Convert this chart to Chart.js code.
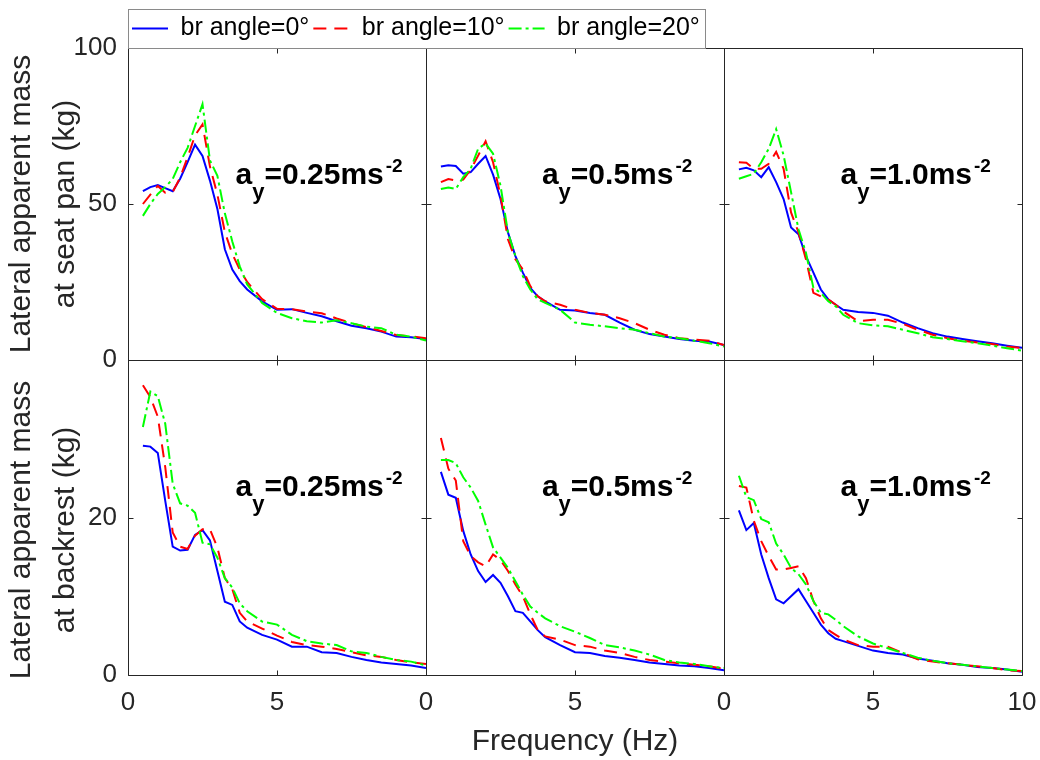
<!DOCTYPE html>
<html>
<head>
<meta charset="utf-8">
<script src="https://cdn.jsdelivr.net/npm/chart.js@4.4.1/dist/chart.umd.min.js"></script>
<style>
  html, body { margin: 0; padding: 0; background: #fff; }
  #wrap { width: 1040px; height: 760px; }
</style>
</head>
<body>
<div id="wrap"><canvas id="chart" width="1040" height="760"></canvas></div>
<script>
// frequency (Hz) shared by every curve
const freq = [0.5, 0.75, 1, 1.25, 1.5, 1.75, 2, 2.25, 2.5, 2.75, 3, 3.25, 3.5, 3.75, 4, 4.5, 5, 5.5, 6, 6.5, 7, 7.5, 8, 8.5, 9, 9.5, 10];

const seriesNames = ["br angle=0°", "br angle=10°", "br angle=20°"];
const levels = ["0.25", "0.5", "1.0"];

const xTicksMain = [0, 5, 10];
const yTicksSeat = [0, 50, 100];
const yTicksBack = [0, 20, 40];

// seat pan, a_y = 0.25
const seat025_br0 = [54.1, 55.4, 56.1, 55.1, 54.1, 58.1, 63.4, 69.0, 65.4, 57.5, 48.4, 35.5, 29.0, 25.3, 22.6, 18.8, 16.1, 16.3, 15.1, 14.0, 12.4, 11.0, 10.2, 9.1, 7.5, 7.3, 6.7];
const seat025_br10 = [50.0, 53.0, 55.8, 53.6, 53.8, 58.5, 65.0, 72.0, 75.5, 62.0, 53.0, 41.0, 34.0, 29.0, 25.0, 19.5, 16.4, 16.3, 15.5, 15.0, 13.3, 11.8, 10.5, 9.3, 8.0, 7.6, 7.0];
const seat025_br20 = [46.2, 50.0, 53.2, 55.4, 58.0, 63.4, 68.0, 75.0, 82.0, 64.0, 59.0, 47.0, 38.0, 30.0, 24.2, 18.3, 15.1, 13.4, 12.4, 12.0, 12.7, 11.8, 10.7, 10.2, 8.1, 7.5, 6.2];

// seat pan, a_y = 0.5
const seat05_br0 = [62.0, 62.4, 62.2, 59.7, 60.2, 62.9, 65.4, 59.4, 51.6, 40.9, 33.3, 28.0, 23.1, 20.4, 18.8, 16.1, 15.9, 15.1, 14.5, 12.0, 9.7, 8.3, 7.5, 6.7, 6.2, 5.9, 4.8];
const seat05_br10 = [57.0, 58.0, 57.5, 57.8, 61.0, 65.5, 70.1, 63.4, 52.7, 38.7, 32.3, 29.0, 23.7, 20.4, 18.8, 17.7, 16.1, 15.1, 14.5, 13.4, 11.8, 9.7, 8.1, 7.0, 6.5, 6.2, 4.8];
const seat05_br20 = [54.8, 55.3, 54.8, 58.6, 61.3, 67.7, 69.4, 66.1, 55.9, 40.9, 33.3, 26.9, 22.6, 19.4, 18.3, 16.1, 12.0, 11.3, 10.8, 10.2, 9.7, 8.6, 7.5, 7.0, 6.2, 5.4, 4.3];

// seat pan, a_y = 1.0
const seat10_br0 = [61.1, 61.6, 60.8, 58.6, 61.8, 57.0, 51.6, 42.5, 40.3, 33.3, 28.0, 22.6, 19.4, 17.7, 16.1, 15.4, 15.1, 14.2, 12.0, 10.2, 8.6, 7.5, 6.7, 6.0, 5.4, 4.6, 3.9];
const seat10_br10 = [63.4, 63.2, 61.3, 61.3, 62.9, 66.7, 61.3, 47.3, 40.9, 32.3, 21.5, 20.4, 19.4, 17.7, 15.6, 12.4, 12.9, 12.9, 11.6, 9.7, 8.1, 7.0, 6.2, 5.6, 5.1, 4.3, 3.8];
const seat10_br20 = [58.1, 58.9, 59.7, 63.4, 67.7, 74.0, 65.6, 53.8, 41.9, 34.4, 23.1, 21.5, 18.8, 17.2, 14.5, 11.8, 11.1, 10.8, 9.7, 8.6, 7.3, 6.7, 6.0, 5.4, 4.6, 3.8, 3.0];

// backrest, a_y = 0.25
const back025_br0 = [29.1, 29.0, 28.2, 22.1, 16.3, 15.8, 15.9, 17.8, 18.4, 17.1, 13.2, 9.3, 8.9, 6.8, 6.0, 5.1, 4.5, 3.6, 3.6, 2.9, 2.8, 2.3, 1.9, 1.6, 1.4, 1.2, 0.9];
const back025_br10 = [36.8, 35.3, 32.8, 26.4, 18.1, 16.3, 16.0, 17.7, 18.5, 18.5, 16.2, 12.3, 10.9, 7.9, 6.8, 5.9, 5.0, 4.2, 3.8, 3.6, 3.3, 2.9, 2.5, 2.3, 1.9, 1.6, 1.4];
const back025_br20 = [31.5, 36.0, 35.4, 31.9, 24.3, 21.8, 21.5, 20.6, 16.8, 16.6, 14.9, 12.3, 11.1, 9.1, 8.1, 6.8, 6.4, 5.1, 4.3, 4.0, 3.8, 3.0, 2.8, 2.3, 1.9, 1.7, 1.2];

// backrest, a_y = 0.5
const back05_br0 = [25.8, 22.9, 22.5, 18.3, 15.3, 13.2, 11.8, 12.7, 11.7, 10.0, 8.1, 7.9, 6.8, 5.7, 4.8, 3.8, 2.9, 2.8, 2.4, 2.2, 1.9, 1.6, 1.4, 1.2, 1.1, 0.9, 0.6];
const back05_br10 = [30.1, 26.2, 24.7, 17.0, 15.1, 14.3, 13.8, 15.3, 14.6, 13.2, 11.5, 10.0, 7.7, 5.7, 4.9, 4.5, 3.8, 3.6, 3.1, 2.8, 2.3, 1.9, 1.7, 1.5, 1.3, 1.1, 0.8];
const back05_br20 = [27.3, 27.3, 26.9, 25.1, 23.8, 22.1, 19.1, 16.2, 14.9, 13.6, 11.9, 10.2, 8.7, 7.9, 7.2, 6.2, 5.5, 4.7, 3.8, 3.5, 3.1, 2.6, 1.9, 1.6, 1.4, 1.1, 0.9];

// backrest, a_y = 1.0
const back10_br0 = [20.9, 18.4, 19.3, 15.3, 12.3, 9.6, 9.1, 10.0, 10.9, 9.4, 7.9, 6.4, 5.3, 4.6, 4.3, 3.7, 3.1, 2.8, 2.6, 2.1, 1.8, 1.5, 1.3, 1.0, 0.9, 0.7, 0.4];
const back10_br10 = [24.0, 23.8, 19.6, 17.0, 15.1, 13.4, 13.4, 13.6, 13.8, 12.3, 9.4, 7.2, 5.7, 5.1, 4.5, 3.8, 3.6, 3.6, 2.8, 2.0, 1.7, 1.5, 1.3, 1.1, 0.9, 0.6, 0.5];
const back10_br20 = [25.3, 22.6, 22.2, 19.8, 19.4, 16.7, 15.3, 13.6, 12.8, 11.5, 9.4, 7.9, 7.7, 7.0, 6.2, 4.9, 4.0, 3.4, 2.8, 2.2, 1.8, 1.5, 1.3, 1.1, 0.9, 0.7, 0.5];

const FONT = '"Liberation Sans", Arial, Helvetica, sans-serif';
const AXIS_COLOR = "#262626";

const lineStyles = [
    { color: "#0000ff", dash: [] },
    { color: "#ff0000", dash: [13, 8] },
    { color: "#00ff00", dash: [13, 4, 3, 4] }
];

const panels = [
    { x: "xL", y: "yT", series: [seat025_br0, seat025_br10, seat025_br20], level: levels[0] },
    { x: "xM", y: "yT", series: [seat05_br0, seat05_br10, seat05_br20], level: levels[1] },
    { x: "xR", y: "yT", series: [seat10_br0, seat10_br10, seat10_br20], level: levels[2] },
    { x: "xL", y: "yB", series: [back025_br0, back025_br10, back025_br20], level: levels[0] },
    { x: "xM", y: "yB", series: [back05_br0, back05_br10, back05_br20], level: levels[1] },
    { x: "xR", y: "yB", series: [back10_br0, back10_br10, back10_br20], level: levels[2] }
];

// where the a_y label sits in each panel (data units)
const labelAt = {
    xL: 3.61, xM: 3.89, xR: 3.91,
    yT: 56.3, yB: 22.7
};

const datasets = [];
panels.forEach((p) => {
    p.series.forEach((vals, k) => {
        datasets.push({
            label: seriesNames[k],
            data: freq.map((f, i) => ({ x: f, y: vals[i] })),
            xAxisID: p.x,
            yAxisID: p.y,
            borderColor: lineStyles[k].color,
            backgroundColor: lineStyles[k].color,
            borderDash: lineStyles[k].dash,
            borderWidth: 2,
            pointRadius: 0,
            tension: 0,
            fill: false,
            order: 2 - k
        });
    });
});

function xScale(id, showTen, title) {
    return {
        type: "linear",
        position: "bottom",
        stack: "cols",
        stackWeight: 1,
        min: 0,
        max: 10,
        afterBuildTicks: (s) => { s.ticks = xTicksMain.map((v) => ({ value: v })); },
        ticks: {
            font: { family: FONT, size: 26 },
            color: AXIS_COLOR,
            padding: 12,
            maxRotation: 0,
            callback: (v) => (v === 10 && !showTen ? "" : v)
        },
        grid: { display: false, drawTicks: false },
        border: { display: false },
        title: {
            display: !!title,
            text: title || "",
            font: { family: FONT, size: 30 },
            color: AXIS_COLOR,
            padding: 0
        },
        afterFit: (s) => { s.height = 85; s.paddingLeft = 0; s.paddingRight = 0; }
    };
}

function yScale(max, ticks, weight, titleLines, hideTop) {
    return {
        type: "linear",
        position: "left",
        stack: "rows",
        stackWeight: weight,
        min: 0,
        max: max,
        afterBuildTicks: (s) => { s.ticks = ticks.map((v) => ({ value: v })); },
        ticks: {
            font: { family: FONT, size: 26 },
            color: AXIS_COLOR,
            padding: 11,
            callback: (v) => (hideTop && v === max ? "" : v)
        },
        grid: { display: false, drawTicks: false },
        border: { display: false },
        title: {
            display: true,
            text: titleLines,
            font: { family: FONT, size: 30, lineHeight: 1.45 },
            color: AXIS_COLOR,
            padding: 0
        },
        afterFit: (s) => { s.width = 128; s.paddingTop = 0; s.paddingBottom = 0; }
    };
}

const frames = {
    id: "frames",
    afterDatasetsDraw(chart) {
        const ctx = chart.ctx;
        ctx.save();
        ctx.strokeStyle = AXIS_COLOR;
        ctx.lineWidth = 1;
        ctx.setLineDash([]);
        const tick = 5;
        panels.forEach((p) => {
            const xs = chart.scales[p.x];
            const ys = chart.scales[p.y];
            const l = Math.round(xs.left) + 0.5, r = Math.round(xs.right) + 0.5;
            const t = Math.round(ys.top) + 0.5, b = Math.round(ys.bottom) + 0.5;
            ctx.beginPath();
            ctx.rect(l, t, r - l, b - t);
            xs.ticks.forEach((tk) => {
                const px = Math.round(xs.getPixelForValue(tk.value)) + 0.5;
                ctx.moveTo(px, b); ctx.lineTo(px, b - tick);
                ctx.moveTo(px, t); ctx.lineTo(px, t + tick);
            });
            ys.ticks.forEach((tk) => {
                const py = Math.round(ys.getPixelForValue(tk.value)) + 0.5;
                ctx.moveTo(l, py); ctx.lineTo(l + tick, py);
                ctx.moveTo(r, py); ctx.lineTo(r - tick, py);
            });
            ctx.stroke();

            // a_y label
            const x0 = xs.getPixelForValue(labelAt[p.x]);
            const y0 = ys.getPixelForValue(labelAt[p.y]);
            ctx.fillStyle = "#000";
            ctx.textAlign = "left";
            ctx.textBaseline = "alphabetic";
            const big = "bold 30px " + FONT;
            ctx.font = big;
            ctx.fillText("a", x0, y0);
            let cx = x0 + ctx.measureText("a").width;
            ctx.font = "bold 22px " + FONT;
            ctx.fillText("y", cx, y0 + 15);
            cx += ctx.measureText("y").width;
            ctx.font = big;
            const mid = "=" + p.level + "ms";
            ctx.fillText(mid, cx, y0);
            cx += ctx.measureText(mid).width + 2;
            ctx.font = "bold 19px " + FONT;
            ctx.fillText("-2", cx, y0 - 12);
        });
        ctx.restore();
    }
};

const legendBox = {
    id: "legendBox",
    afterDraw(chart) {
        const lg = chart.legend;
        if (!lg || !lg.legendHitBoxes || !lg.legendHitBoxes.length) return;
        const hb = lg.legendHitBoxes;
        const last = hb[hb.length - 1];
        const ctx = chart.ctx;
        const l = Math.round(lg.left) + 0.5;
        const t = Math.round(lg.top - 3) + 0.5;
        const r = Math.round(last.left + last.width + 5) + 0.5;
        const b = Math.round(chart.chartArea.top) + 0.5;
        ctx.save();
        ctx.strokeStyle = "#8a8a8a";
        ctx.lineWidth = 1;
        ctx.setLineDash([]);
        ctx.strokeRect(l, t, r - l, b - t);
        ctx.restore();
    }
};

new Chart(document.getElementById("chart"), {
    type: "line",
    data: { datasets },
    options: {
        responsive: false,
        animation: false,
        devicePixelRatio: 1,
        layout: { padding: { top: 12, right: 18, bottom: 0, left: 0 } },
        plugins: {
            legend: {
                display: true,
                position: "top",
                align: "start",
                fullSize: false,
                maxHeight: 36,
                labels: {
                    generateLabels: (chart) => {
                        const items = Chart.defaults.plugins.legend.labels.generateLabels(chart);
                        items.forEach((it) => {
                            const ds = chart.data.datasets[it.datasetIndex];
                            it.lineDash = ds.borderDash;
                            it.strokeStyle = ds.borderColor;
                            it.lineWidth = ds.borderWidth;
                        });
                        return items;
                    },
                    filter: (item) => item.datasetIndex < 3,
                    sort: (a, b) => a.datasetIndex - b.datasetIndex,
                    usePointStyle: true,
                    pointStyle: "line",
                    pointStyleWidth: 36,
                    padding: 4,
                    color: "#000",
                    font: { family: FONT, size: 25 }
                }
            },
            tooltip: { enabled: false }
        },
        scales: {
            xL: xScale("xL", false, null),
            xM: xScale("xM", false, "Frequency (Hz)"),
            xR: xScale("xR", true, null),
            yB: yScale(40, yTicksBack, 315, ["Lateral apparent mass   ", "at backrest (kg)   "], true),
            yT: yScale(100, yTicksSeat, 312, ["Lateral apparent mass", "at seat pan (kg)"], false)
        }
    },
    plugins: [frames, legendBox]
});
</script>
</body>
</html>
